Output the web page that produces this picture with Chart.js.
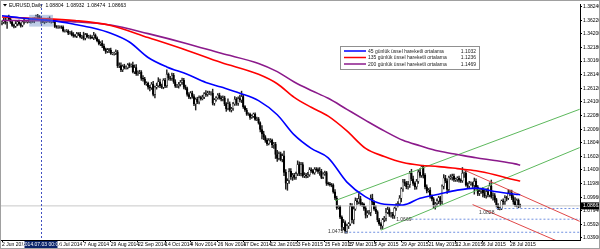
<!DOCTYPE html>
<html>
<head>
<meta charset="utf-8">
<script src="https://cdn.jsdelivr.net/npm/chart.js@4.4.0/dist/chart.umd.min.js"></script>
<style>
  html, body { margin: 0; padding: 0; background: #fff; }
  canvas { display: block; }
</style>
</head>
<body>
<canvas id="chart" width="600" height="249"></canvas>
<script>
// EURUSD daily, prices in pips (1/10000), one value per trading day from 2 Jun 2014
const firstOpen = 13580;
const closes = [
  13595,13625,13595,13660,13640, 13595,13545,13535,13570,13600, 13570,13545,13595,13605,13605,
  13605,13610,13625,13610,13645, 13690,13680,13655,13610,13595, 13605,13615,13640,13605,13605,
  13610,13530,13525,13525,13525, 13520,13465,13465,13465,13430, 13440,13410,13395,13385,13425,
  13415,13375,13380,13355,13410, 13375,13375,13370,13365,13400, 13360,13320,13275,13280,13240,
  13190,13160,13185,13180,13130, 13130,13130,13155,12950,12950, 12890,12940,12920,12920,12965,
  12950,12955,12860,12920,12830, 12850,12850,12760,12750,12685, 12685,12630,12620,12670,12520,
  12630,12650,12710,12650,12630, 12730,12650,12820,12765,12760, 12805,12710,12645,12650,12670,
  12700,12730,12630,12610,12520, 12480,12540,12490,12380,12450, 12410,12475,12460,12480,12530,
  12520,12540,12540,12540,12390, 12440,12470,12510,12470,12450, 12470,12380,12310,12380,12290,
  12310,12380,12450,12390,12460, 12440,12490,12340,12290,12230, 12230,12180,12200,12230,
  12150,12160,12100,12000, 11935,11890,11840,11790,11840, 11840,11770,11780,11630,11570,
  11640,11555,11610,11365,11205, 11240,11380,11300,11320,11290, 11345,11480,11350,11480,11315,
  11325,11310,11330,11400,11390, 11360,11410,11405,11380,11380, 11290,11340,11360,11200,11195,
  11180,11175,11075,10980,10840, 10855,10700,10550,10620,10490, 10570,10600,10860,10660,10820,
  10940,10925,10970,10900,10890, 10830,10730,10760,10770,10980, 10920,10820,10780,10660,10600,
  10570,10660,10680,10770,10810, 10740,10740,10720,10830,10880, 10900,10980,11120,11220,11200,
  11150,11180,11350,11270,11200, 11150,11230,11370,11320,11450, 11320,11150,11090,11100,11010,
  10970,10880,10900,10940,10990, 10930,11160,11280,11240,11110, 11290,11290,11310,11260,11260,
  11280,11250,11240,11350,11350, 11180,11160,11200,11200,11170, 11230,11150,11050,11080,11100,
  11060,11020,11080,11030,11160, 11000,11020,10960,10880,10830, 10830,10940,10930,10990,10980,
  11060,11060,10990,10930,10880, 10950,10880,10866
];
// wick length above the body top / below the body bottom, pips
const upWick = [
  20,30,35,17,40, 30,25,20,35,20, 25,15,25,35,20, 20,25,20,30,15, 10,20,15,20,10, 15,20,15,35,20,
  20,20,15,20,15, 15,20,15,20,15, 20,25,30,20,20, 15,30,20,65,20, 20,25,30,25,45, 20,15,20,25,40,
  30,20,20,20,30, 15,20,30,20,40, 40,20,30,25,15, 25,20,45,40,45, 20,30,25,40,25, 25,20,25,30,45,
  15,40,60,40,25, 25,30,67,20,25, 35,30,30,20,30, 30,35,30,30,20, 30,25,30,30,20, 30,25,20,30,20,
  50,30,30,25,60, 20,20,25,30,25, 30,25,20,75,30, 20,25,40,25,25, 50,80,20,15,25, 20,15,20,15,
  20,25,20,15, 60,40,20,25,25, 25,20,30,30,60, 30,25,30,70,40, 30,40,40,30,30, 25,55,40,35,30,
  35,25,35,35,30, 20,25,25,25,55, 30,20,25,20,20, 20,20,20,35,30, 20,20,20,45,25, 25,20,45,40,40,
  45,40,80,40,20, 20,30,35,30,50, 60,20,50,15,20, 20,20,30,60,40, 30,30,30,20,20, 30,40,20,40,40,
  30,50,30,60,40, 25,30,30,50,17, 20,25,30,25,40, 20,20,20,30,20, 20,20,50,40,30, 20,40,30,30,20,
  20,30,20,86,20, 40,30,30,25,20, 50,40,20,30,20, 40,40,40,50,50, 90,40,30,20,20, 20,15,30,30,20,
  50,40,40,30,60, 20,20,13
];
const dnWick = [
  25,20,30,92,25, 20,15,25,20,30, 20,25,20,30,15, 25,20,30,20,25, 20,25,15,35,10, 25,20,20,15,25,
  20,15,20,25,20, 20,15,20,15,20, 15,20,25,15,20, 20,15,25,25,25, 15,20,25,15,30, 15,20,20,30,25,
  20,30,20,40,15, 20,25,20,30,30, 30,30,20,25,20, 30,25,20,30,25, 25,20,30,30,20, 30,30,45,25,20,
  50,30,20,30,20, 25,30,26,30,30, 30,25,20,25,35, 25,30,25,20,25, 20,25,25,25,90, 25,30,25,20,20,
  30,25,20,30,25, 30,20,20,20,25, 25,25,40,20,20, 30,25,20,30,30, 30,40,25,20,20, 20,30,15,20,
  15,20,20,35, 75,40,30,25,20, 30,40,50,60,45, 20,20,35,50,90, 107,40,40,55,30, 30,30,35,40,25,
  30,30,25,25,25, 20,25,25,30,60, 20,20,20,30,20, 20,25,20,20,25, 20,25,55,40,28, 28,40,25,45,60,
  20,35,30,30,30, 30,45,35,20,50, 35,20,30,30,25, 50,40,30,35,20, 30,40,40,40,30, 30,30,55,40,35,
  30,35,40,30,30, 40,35,30,30,30, 40,30,30,20,30, 30,40,62,40,40, 50,30,40,30,60, 25,30,40,30,30,
  30,30,25,25,60, 20,30,30,25,30, 130,40,30,30,30, 60,30,40,30,30, 20,50,40,30,20, 22,20,40,40,40,
  20,40,30,40,20, 30,40,19
];

const tickIdx = [0, 16, 32, 48, 64, 80, 96, 111, 127, 142, 158, 174, 190, 204, 219, 235, 251, 267, 283, 299];
const tickLabels = ['2 Jun 2014', '24 Jun 2014', '16 Jul 2014', '7 Aug 2014', '29 Aug 2014', '22 Sep 2014',
  '14 Oct 2014', '4 Nov 2014', '26 Nov 2014', '17 Dec 2014', '12 Jan 2015', '3 Feb 2015', '25 Feb 2015',
  '17 Mar 2015', '7 Apr 2015', '29 Apr 2015', '21 May 2015', '12 Jun 2015', '6 Jul 2015', '28 Jul 2015'];
const priceTicks = [1.3824, 1.3622, 1.3420, 1.3218, 1.3016, 1.2814, 1.2612, 1.2410, 1.2208,
  1.2006, 1.1804, 1.1602, 1.1400, 1.1198, 1.0996, 1.0794, 1.0592, 1.0390];

// moving averages, read at sample days
const ema45Idx = [0, 10, 20, 32, 43, 53, 64, 75, 86, 97, 109, 120, 129, 140, 151, 162, 172, 182, 192, 203, 214, 225, 236, 246, 257, 268, 279, 290, 302, 305];
const ema45 = [1.369, 1.366, 1.3637, 1.361, 1.356, 1.351, 1.343, 1.330, 1.307, 1.293, 1.282, 1.270, 1.263, 1.254, 1.243,
  1.222, 1.192, 1.172, 1.158, 1.122, 1.100, 1.089, 1.088, 1.098, 1.104, 1.110, 1.113, 1.108, 1.104, 1.1032];
const emaSlowIdx = [0, 20, 43, 64, 86, 109, 129, 151, 162, 172, 182, 192, 203, 214, 225, 236, 246, 257, 268, 279, 290, 302, 305];
const ema135 = [1.367, 1.3652, 1.3618, 1.3546, 1.3366, 1.3174, 1.2994, 1.2820, 1.268, 1.2478, 1.233, 1.2199, 1.198,
  1.172, 1.160, 1.151, 1.147, 1.145, 1.142, 1.1388, 1.133, 1.125, 1.1236];
const ema200 = [1.362, 1.3616, 1.3599, 1.3552, 1.3424, 1.3275, 1.3132, 1.2982, 1.286, 1.2706, 1.258, 1.2464, 1.230,
  1.2137, 1.198, 1.184, 1.176, 1.168, 1.163, 1.158, 1.154, 1.149, 1.1469];

// drawn objects: [day index, price]
const greenUpper = [[196, 1.0944], [340, 1.2301]];
const greenLower = [[223, 1.0506], [340, 1.1732]];
const redUpper = [[271, 1.1411], [340, 1.0637]];
const redLower = [[277, 1.0886], [340, 1.0200]];
const levels = [1.0828, 1.0669, 1.0475];
const levelStart = [291, 241, 202];
const bid = 1.08663;
const crossIdx = 23;

const xMin = -1.18, xMax = 340.2;
const yMin = 1.0360, yMax = 1.3864;
const P = v => v / 10000;

const opens = closes.map((c, i) => i === 0 ? firstOpen : closes[i - 1]);
const wickData = closes.map((c, i) => ({
  x: i,
  y: [P(Math.min(opens[i], c) - dnWick[i]), P(Math.max(opens[i], c) + upWick[i])]
}));
const bodyData = closes.map((c, i) => {
  const lo = Math.min(opens[i], c);
  const hi = Math.max(Math.max(opens[i], c), lo + 1);
  return { x: i, y: [P(lo), P(hi)] };
});
const pts = (ix, vals) => ix.map((x, k) => ({ x: x, y: vals[k] }));
const seg = arr => arr.map(p => ({ x: p[0], y: p[1] }));

const lineDs = (data, color, width, order, dash) => ({
  type: 'line', data: data, borderColor: color, borderWidth: width, pointRadius: 0,
  fill: false, order: order, borderDash: dash || [], cubicInterpolationMode: 'monotone'
});

const datasets = [
  lineDs(pts(ema45Idx, ema45), '#0000ff', 1.6, 1),
  lineDs(pts(emaSlowIdx, ema135), '#ff0000', 1.6, 2),
  lineDs(pts(emaSlowIdx, ema200), '#8b1a8b', 1.6, 3),
  lineDs(seg(greenUpper), '#5cb85c', 1, 4),
  lineDs(seg(greenLower), '#5cb85c', 1, 4),
  lineDs(seg(redUpper), '#e04848', 1, 4),
  lineDs(seg(redLower), '#e04848', 1, 4),
  lineDs([{ x: xMin, y: bid }, { x: xMax, y: bid }], '#c8c8c8', 1, 9)
];
levels.forEach((lv, k) => {
  datasets.push(lineDs([{ x: levelStart[k], y: lv }, { x: xMax, y: lv }], '#7090e0', 1, 8, [2, 2]));
});
datasets.push({
  type: 'bar', data: bodyData, order: 10, grouped: false, barThickness: 1.6,
  backgroundColor: ctx => closes[ctx.dataIndex] >= opens[ctx.dataIndex] ? '#ffffff' : '#000000',
  borderColor: '#000000', borderWidth: 0.5, borderSkipped: false
});
datasets.push({
  type: 'bar', data: wickData, order: 11, grouped: false, barThickness: 0.8,
  backgroundColor: '#222222', borderWidth: 0
});

const fam = "'Liberation Sans', Arial, sans-serif";
const font = { size: 5, family: fam };

const overlay = {
  id: 'overlay',
  afterDraw(chart) {
    const c = chart.ctx;
    const x = chart.scales.x, y = chart.scales.y;
    const area = chart.chartArea;
    c.save();

    // selection box near the crosshair
    c.fillStyle = 'rgba(110,145,200,0.45)';
    const bx0 = x.getPixelForValue(16), bx1 = x.getPixelForValue(30);
    const by0 = y.getPixelForValue(1.3703), by1 = y.getPixelForValue(1.3528);
    c.fillRect(bx0, by0, bx1 - bx0, by1 - by0);

    // crosshair
    const cx = Math.round(x.getPixelForValue(crossIdx)) + 0.5;
    c.strokeStyle = '#4050c0';
    c.lineWidth = 1;
    c.setLineDash([2, 2]);
    c.beginPath(); c.moveTo(cx, area.top); c.lineTo(cx, area.bottom); c.stroke();
    c.setLineDash([]);

    c.font = '5px ' + fam;
    c.textBaseline = 'middle';

    // header
    c.fillStyle = '#000';
    c.beginPath(); c.moveTo(3, 4); c.lineTo(7, 4); c.lineTo(5, 6.5); c.closePath(); c.fill();
    c.textAlign = 'left';
    c.fillText('EURUSD,Daily  1.08804  1.08932  1.08474  1.08663', 9, 5.5);

    // price labels of the lows
    c.fillStyle = '#333';
    c.textAlign = 'right';
    c.fillText('1.0475', x.getPixelForValue(levelStart[2]) - 2, y.getPixelForValue(levels[2]) - 1);
    c.fillText('1.0669', x.getPixelForValue(levelStart[1]), y.getPixelForValue(levels[1]));
    c.fillText('1.0828', x.getPixelForValue(levelStart[0]) - 2, y.getPixelForValue(levels[0]) + 4);

    // legend box
    const lx = 340, ly = 46, lw = 139, lh = 23;
    c.fillStyle = '#fff';
    c.fillRect(lx, ly, lw, lh);
    c.strokeStyle = '#909090';
    c.strokeRect(lx + 0.5, ly + 0.5, lw, lh);
    const rows = [
      ['#0000ff', '45 günlük üssel hareketli ortalama', '1.1032'],
      ['#ff0000', '135 günlük üssel hareketli ortalama', '1.1236'],
      ['#8b1a8b', '200 günlük üssel hareketli ortalama', '1.1469']
    ];
    rows.forEach((r, k) => {
      const ry = ly + 5 + k * 6.5;
      c.strokeStyle = r[0];
      c.lineWidth = 1.5;
      c.beginPath(); c.moveTo(lx + 4, ry); c.lineTo(lx + 26, ry); c.stroke();
      c.fillStyle = '#222';
      c.textAlign = 'left';
      c.fillText(r[1], lx + 28, ry + 0.5);
      c.textAlign = 'right';
      c.fillText(r[2], lx + lw - 3, ry + 0.5);
    });

    // date box under the crosshair
    c.fillStyle = '#0a246a';
    c.fillRect(cx - 17, area.bottom + 1, 33, 8);
    c.fillStyle = '#fff';
    c.textAlign = 'center';
    c.fillText('2014.07.03 00:00', cx, area.bottom + 5);

    // current price box
    const py = y.getPixelForValue(bid);
    c.fillStyle = '#000';
    c.fillRect(area.right + 1, py - 3.5, 19, 7);
    c.fillStyle = '#fff';
    c.textAlign = 'left';
    c.fillText('1.08663', area.right + 3, py);

    // frame
    c.strokeStyle = '#a0a0a0';
    c.lineWidth = 1;
    c.strokeRect(0.5, 0.5, chart.width - 1, chart.height - 1);
    c.restore();
  }
};

new Chart(document.getElementById('chart'), {
  type: 'bar',
  data: { datasets: datasets },
  options: {
    responsive: false,
    animation: false,
    layout: { padding: 0 },
    plugins: { legend: { display: false }, tooltip: { enabled: false } },
    scales: {
      x: {
        type: 'linear', min: xMin, max: xMax, offset: false,
        afterBuildTicks: s => { s.ticks = tickIdx.map(v => ({ value: v })); },
        afterFit: s => { s.height = 9; },
        ticks: {
          autoSkip: false, maxRotation: 0, minRotation: 0, align: 'start', padding: 0,
          font: font, color: '#000',
          callback: (v, i) => tickLabels[i]
        },
        grid: { display: true, drawOnChartArea: false, tickLength: 2, color: '#000', offset: false },
        border: { display: true, color: '#000' }
      },
      y: {
        type: 'linear', position: 'right', min: yMin, max: yMax,
        afterBuildTicks: s => { s.ticks = priceTicks.map(v => ({ value: v })); },
        afterFit: s => { s.width = 20; },
        ticks: {
          padding: 1, font: font, color: '#000',
          callback: v => v.toFixed(5)
        },
        grid: { display: true, drawOnChartArea: false, tickLength: 2, color: '#000' },
        border: { display: true, color: '#000' }
      }
    }
  },
  plugins: [overlay]
});
</script>
</body>
</html>
